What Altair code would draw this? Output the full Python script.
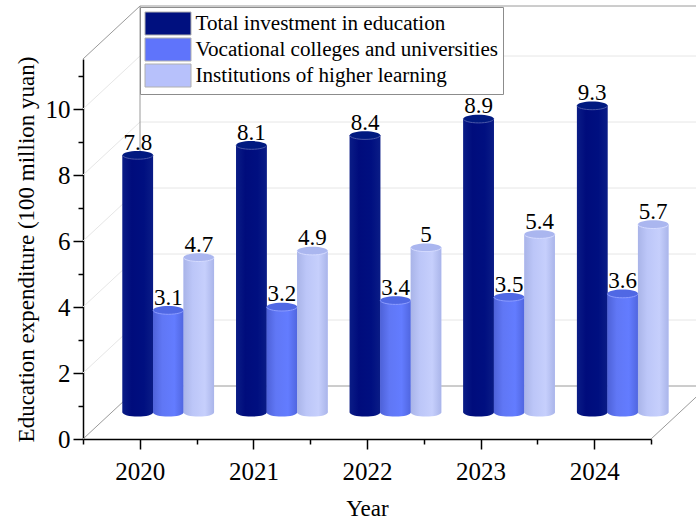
import altair as alt
import pandas as pd

years = [2020, 2021, 2022, 2023, 2024]
series_names = [
    "Total investment in education",
    "Vocational colleges and universities",
    "Institutions of higher learning",
]
total_investment = [7.8, 8.1, 8.4, 8.9, 9.3]
vocational = [3.1, 3.2, 3.4, 3.5, 3.6]
higher_learning = [4.7, 4.9, 5, 5.4, 5.7]
series_values = [total_investment, vocational, higher_learning]

swatch_colors = ["#00107f", "#5f74fb", "#b7c1fb"]
cap_colors = ["#011a80", "#5068e4", "#aab6ef"]
rim_colors = ["#4a58a8", "#8c9cff", "#d5dbff"]
body_stops = [
    ["#0a1c86", "#000c7c", "#000f80", "#0a1c86"],
    ["#4e62d8", "#6077f5", "#637cff", "#5066e0"],
    ["#a9b4e8", "#bcc6f8", "#c6cffc", "#aab5ea"],
]

# Plot-area scale in pixels per data unit, and the oblique depth of the box.
PX_PER_YEAR = 113.6
PX_PER_UNIT = 33.0
DEPTH_X = 57 / PX_PER_YEAR
DEPTH_Y = 53 / PX_PER_UNIT
BAR_W = 30.5 / PX_PER_YEAR
X_MIN, X_MAX = 2019.5, 2024.5
Y_MAX = 380 / PX_PER_UNIT
CAP_SIZE = 30.5 ** 2

rows = []
for s, (name, vals) in enumerate(zip(series_names, series_values)):
    for year, v in zip(years, vals):
        left = year + DEPTH_X / 2 + (s - 1.5) * BAR_W
        rows.append(
            dict(
                series=name,
                idx=s,
                value=v,
                left=left,
                right=left + BAR_W,
                mid=left + BAR_W / 2,
                base=DEPTH_Y / 2,
                top=v + DEPTH_Y / 2,
            )
        )
bars = pd.DataFrame(rows)

x_scale = alt.Scale(domain=[X_MIN, X_MAX], nice=False, zero=False)
y_scale = alt.Scale(domain=[0, Y_MAX], nice=False, zero=False)


def X(field, **kw):
    return alt.X(field, type="quantitative", scale=x_scale, axis=None, **kw)


def Y(field, **kw):
    return alt.Y(field, type="quantitative", scale=y_scale, axis=None, **kw)


def box_lines(frame, color, width=1.0):
    """Straight segments of the oblique box, given in data coordinates."""
    return (
        alt.Chart(pd.DataFrame(frame))
        .mark_rule(color=color, strokeWidth=width)
        .encode(x=X("x0"), x2="x1", y=Y("y0"), y2="y1")
    )


major = [2, 4, 6, 8, 10]
back_x = X_MIN + DEPTH_X
grid_back = box_lines(
    [dict(x0=back_x, x1=X_MAX + DEPTH_X, y0=v + DEPTH_Y, y1=v + DEPTH_Y) for v in major],
    "#e6e6e6",
)
grid_side = box_lines(
    [dict(x0=X_MIN, x1=back_x, y0=v, y1=v + DEPTH_Y) for v in major],
    "#e6e6e6",
)
box_edges = box_lines(
    [
        dict(x0=back_x, x1=back_x, y0=DEPTH_Y, y1=Y_MAX + DEPTH_Y),
        dict(x0=back_x, x1=X_MAX + DEPTH_X, y0=DEPTH_Y, y1=DEPTH_Y),
        dict(x0=back_x, x1=X_MAX + DEPTH_X, y0=Y_MAX + DEPTH_Y, y1=Y_MAX + DEPTH_Y),
        dict(x0=X_MIN, x1=back_x, y0=0, y1=DEPTH_Y),
        dict(x0=X_MIN, x1=back_x, y0=Y_MAX, y1=Y_MAX + DEPTH_Y),
        dict(x0=X_MAX, x1=X_MAX + DEPTH_X, y0=0, y1=DEPTH_Y),
    ],
    "#9a9a9a",
)

FONT = "Liberation Serif"

# Axes carry the major and minor ticks together; minor ones stay unlabelled.
axes = (
    alt.Chart(pd.DataFrame({"x": [X_MIN], "y": [0.0]}))
    .mark_point(opacity=0)
    .encode(
        x=alt.X(
            "x:Q",
            scale=x_scale,
            axis=alt.Axis(
                title="Year",
                values=[X_MIN + 0.5 * i for i in range(11)],
                labelExpr="datum.value % 1 == 0 ? format(datum.value, 'd') : ''",
                labelOverlap=False,
                grid=False,
                tickSize={"condition": {"test": "datum.value % 1 == 0", "value": 10}, "value": 5},
                tickColor="black",
                tickWidth=1.5,
                domainColor="black",
                domainWidth=1.5,
                labelFont=FONT,
                labelFontSize=25,
                labelColor="black",
                labelPadding=10,
                titleFont=FONT,
                titleFontSize=23,
                titleFontWeight="normal",
                titleColor="black",
                titlePadding=13,
            ),
        ),
        y=alt.Y(
            "y:Q",
            scale=y_scale,
            axis=alt.Axis(
                title="Education expenditure (100 million yuan)",
                values=list(range(0, 12)),
                labelExpr="datum.value % 2 == 0 ? datum.label : ''",
                labelOverlap=False,
                grid=False,
                tickSize={"condition": {"test": "datum.value % 2 == 0", "value": 10}, "value": 5},
                tickColor="black",
                tickWidth=1.5,
                domainColor="black",
                domainWidth=1.5,
                labelFont=FONT,
                labelFontSize=25,
                labelColor="black",
                labelPadding=3,
                titleFont=FONT,
                titleFontSize=23,
                titleFontWeight="normal",
                titleColor="black",
                titlePadding=7,
            ),
        ),
    )
)

# Solid bars underneath the shaded cylinders supply the legend.
legend_bars = (
    alt.Chart(bars)
    .mark_bar()
    .encode(
        x=X("left"),
        x2="right",
        y=Y("base"),
        y2="top",
        color=alt.Color(
            "series:N",
            scale=alt.Scale(domain=series_names, range=swatch_colors),
            sort=series_names,
            legend=alt.Legend(
                title=None,
                orient="none",
                legendX=57,
                legendY=-52,
                symbolType="M-1,-1H3V1H-1Z",
                symbolSize=529,
                symbolStrokeColor="#b0b0b0",
                symbolStrokeWidth=1,
                labelOffset=27,
                labelFont=FONT,
                labelFontSize=21.1,
                labelColor="black",
                labelLimit=500,
                rowPadding=-2,
                padding=4.5,
                fillColor="white",
                strokeColor="#8c8c8c",
            ),
        ),
    )
)

ELLIPSE = "M-1,0A1,0.27,0,1,1,1,0A1,0.27,0,1,1,-1,0Z"
FRONT_ARC = "M-1,0A1,0.27,0,0,0,1,0"

layers = [grid_back, grid_side, box_edges, axes, legend_bars]

for s, name in enumerate(series_names):
    subset = bars[bars["idx"] == s]
    stops = [
        alt.GradientStop(offset=o, color=c)
        for o, c in zip([0, 0.3, 0.7, 1], body_stops[s])
    ]
    shade = alt.Gradient(gradient="linear", x1=0, x2=1, y1=0, y2=0, stops=stops)
    chart = alt.Chart(subset)
    layers += [
        chart.mark_point(shape=ELLIPSE, size=CAP_SIZE, filled=True, fill=shade, opacity=1, strokeWidth=0).encode(
            x=X("mid"), y=Y("base")
        ),
        chart.mark_bar(fill=shade).encode(x=X("left"), x2="right", y=Y("base"), y2="top"),
        chart.mark_point(shape=ELLIPSE, size=CAP_SIZE, filled=True, fill=cap_colors[s], opacity=1, strokeWidth=0).encode(
            x=X("mid"), y=Y("top")
        ),
        chart.mark_point(shape=FRONT_ARC, size=CAP_SIZE, filled=False, stroke=rim_colors[s], strokeWidth=1, opacity=1).encode(
            x=X("mid"), y=Y("top")
        ),
    ]

labels = (
    alt.Chart(bars)
    .mark_text(font=FONT, fontSize=23, color="black", baseline="alphabetic", dy=-5.5)
    .encode(x=X("mid"), y=Y("top"), text=alt.Text("value:Q", format=".1~f"))
)
layers.append(labels)

chart = (
    alt.layer(*layers)
    .resolve_axis(x="independent", y="independent")
    .properties(
        width=568,
        height=380,
        autosize="none",
        padding={"left": 83, "top": 59, "right": 45, "bottom": 81},
        background="white",
    )
    .configure_view(stroke=None)
)

chart.save("out.html", embed_options={"renderer": "svg", "actions": False})
